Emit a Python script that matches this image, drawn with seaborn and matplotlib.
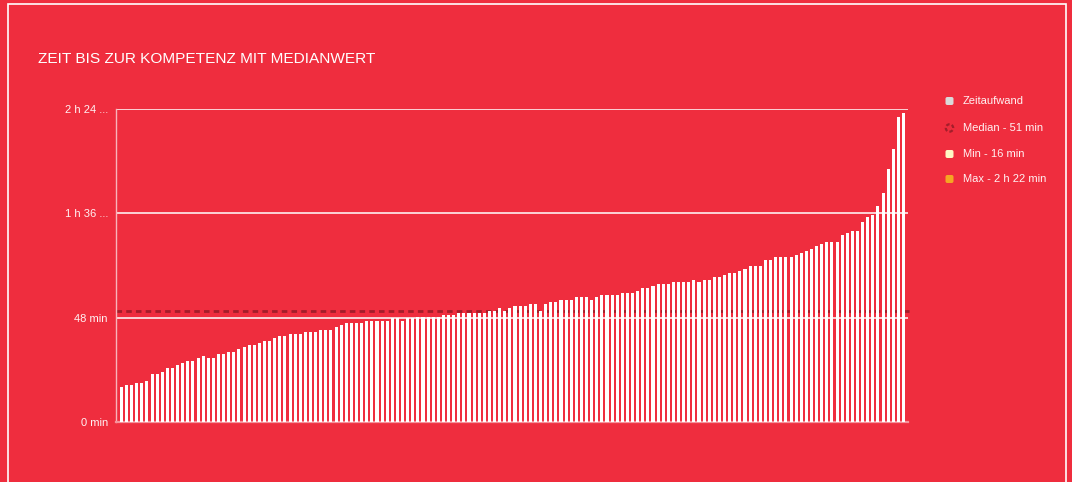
import matplotlib
matplotlib.use("Agg")
import matplotlib.pyplot as plt
import seaborn as sns
import pandas as pd
from matplotlib.patches import Rectangle, FancyBboxPatch, Circle

# ---------------- data ----------------
values = [
    16, 17, 17, 18, 18, 19, 22, 22, 23, 25,
    25, 26, 27, 28, 28, 29.5, 30.5, 29.5, 29.5, 31.3,
    31.3, 32.3, 32.3, 33.6, 34.6, 35.5, 35.5, 36.4, 37.3, 37.3,
    38.7, 39.6, 39.6, 40.6, 40.6, 40.6, 41.5, 41.5, 41.5, 42.4,
    42.4, 42.4, 43.8, 44.7, 45.6, 45.6, 45.6, 45.6, 46.5, 46.5,
    46.5, 46.5, 46.5, 47.9, 47.9, 46.5, 47.9, 47.9, 48.4, 48.4,
    48.4, 48.4, 48.4, 49.3, 49.3, 49.3, 50.2, 50.2, 50.2, 50.2,
    50.2, 50.2, 51.2, 51.2, 52.5, 51.2, 52.5, 53.5, 53.5, 53.5,
    54.4, 54.4, 51.2, 54.4, 55.3, 55.3, 56.2, 56.2, 56.2, 57.6,
    57.6, 57.6, 56.2, 57.6, 58.5, 58.5, 58.5, 58.5, 59.4, 59.4,
    59.4, 60.4, 61.8, 61.8, 62.7, 63.6, 63.6, 63.6, 64.5, 64.5,
    64.5, 64.5, 65.4, 64.5, 65.4, 65.4, 66.8, 66.8, 67.7, 68.7,
    68.7, 69.6, 70.5, 71.9, 71.9, 71.9, 74.7, 74.7, 76, 76,
    76, 76, 77, 77.9, 78.8, 79.7, 81.1, 82, 82.9, 82.9,
    82.9, 86.2, 87.1, 88, 88, 92.2, 94.5, 95.4, 99.5, 105.5,
    116.6, 125.8, 140.5, 142,
]
median_value = 51
tick_values = [0, 48, 96, 144]
tick_labels = ["0 min", "48 min", "1 h 36 ...", "2 h 24 ..."]
legend_labels = ["Zeitaufwand", "Median - 51 min", "Min - 16 min", "Max - 2 h 22 min"]
title_text = "ZEIT BIS ZUR KOMPETENZ MIT MEDIANWERT"

# ---------------- style ----------------
BG = "#EF2D3E"
MEDIAN_C = "#A31E2A"
W, H = 1072, 482

sns.set_style("white")
plt.rcParams["font.family"] = ["Liberation Sans", "DejaVu Sans"]

fig = plt.figure(figsize=(W / 100, H / 100), dpi=100, facecolor=BG)
ax = fig.add_axes([116 / W, 60 / H, 792 / W, 313 / H])
ax.set_facecolor(BG)

df = pd.DataFrame({"idx": range(len(values)), "val": values})
sns.barplot(data=df, x="idx", y="val", color="white", saturation=1,
            width=0.6, errorbar=None, ax=ax, zorder=3, linewidth=0,
            edgecolor="none")

ax.set_xlim(-1.05, len(values) - 1 + 0.88)
ax.set_ylim(0, 144)
ax.set_xticks([])
ax.set_xlabel("")
ax.set_ylabel("")
ax.set_yticks(tick_values)
ax.set_yticklabels(tick_labels, fontsize=8, color="#FFF2F3")
ax.tick_params(axis="y", length=0, pad=5.8)
ax.yaxis.grid(True, color="white", lw=1.1, zorder=1)
ax.set_axisbelow(True)

for s in ["top", "right"]:
    ax.spines[s].set_visible(False)
ax.spines["left"].set_color("#F8B4BA")
ax.spines["left"].set_linewidth(1.0)
ax.spines["bottom"].set_color("#F6939C")
ax.spines["bottom"].set_linewidth(1.6)

ax.axhline(median_value, xmin=0, xmax=(913 - 116) / 792, color=MEDIAN_C,
           lw=2, linestyle=(0, (2, 1.5)), clip_on=False, zorder=2)

# frame
fig.add_artist(Rectangle((8 / W, -0.1), (1066 - 8) / W, 1.1 - 4 / H,
                         transform=fig.transFigure, fill=False,
                         ec="white", lw=1.2))

# title
fig.text(38 / W, 1 - 59 / H, title_text, color="white", fontsize=11.1,
         ha="left", va="center")

# legend
leg_y = [101, 128, 154, 179]
mx = 949.5
tr = fig.dpi_scale_trans
colors = ["#D9D9D9", None, "#FFF7C4", "#F5A623"]
for i, (lab, yy) in enumerate(zip(legend_labels, leg_y)):
    cx, cy = mx / 100, (H - yy) / 100
    if colors[i] is None:
        fig.add_artist(Circle((cx, cy), 0.037, transform=tr, fill=False,
                              ec=MEDIAN_C, lw=1.6, ls=(0, (1.6, 1.0))))
    else:
        s = 0.08
        fig.add_artist(FancyBboxPatch((cx - s / 2 + 0.012, cy - s / 2 + 0.012),
                                      s - 0.024, s - 0.024,
                                      boxstyle="round,pad=0.012,rounding_size=0.018",
                                      transform=tr, fc=colors[i], ec="none"))
    fig.text(963 / W, 1 - yy / H, lab, color="#FFF2F3", fontsize=8,
             ha="left", va="center")

fig.savefig("out.png", dpi=100, facecolor=BG)
